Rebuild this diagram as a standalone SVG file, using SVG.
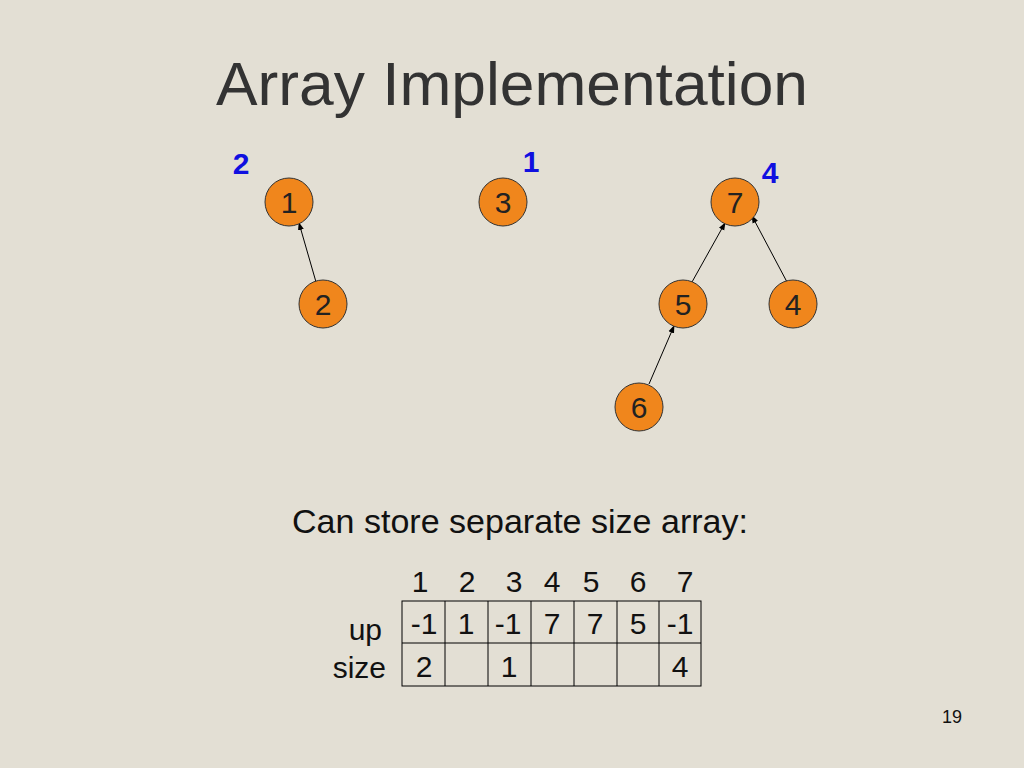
<svg xmlns="http://www.w3.org/2000/svg" width="1024" height="768" viewBox="0 0 1024 768">
<defs>
<marker id="ah" markerWidth="8" markerHeight="8" refX="7" refY="4" orient="auto" markerUnits="userSpaceOnUse">
<path d="M0,1 L8,4 L0,7 Z" fill="#000"/></marker>
</defs>
<style>
text{font-family:"Liberation Sans",Arial,sans-serif;}
.n circle{fill:#F0861C;stroke:#333;stroke-width:1}
.n text{font-size:30px;text-anchor:middle;fill:#222}
.b{font-size:30px;font-weight:bold;fill:#1010E0;text-anchor:middle}
.t{font-size:30px;fill:#111;text-anchor:middle}
.c line{stroke:#000;stroke-width:1;marker-end:url(#ah)}
.g line{stroke:#000;stroke-width:1}
</style>
<rect width="1024" height="768" fill="#E3DFD4"/>
<text x="512" y="105" font-size="62" fill="#333" text-anchor="middle" textLength="592" lengthAdjust="spacingAndGlyphs">Array Implementation</text>
<text class="b" x="241" y="174">2</text>
<text class="b" x="531" y="172">1</text>
<text class="b" x="770" y="183">4</text>
<g class="c">
<line x1="316" y1="282" x2="299" y2="223"/>
<line x1="692" y1="282" x2="725" y2="223"/>
<line x1="787" y1="282" x2="752" y2="216"/>
<line x1="649" y1="384" x2="674" y2="326"/>
</g>
<g id="n1" class="n"><circle cx="289" cy="202" r="24"/><text x="289" y="213">1</text></g>
<g id="n3" class="n"><circle cx="503" cy="202" r="24"/><text x="503" y="213">3</text></g>
<g id="n7" class="n"><circle cx="735" cy="202" r="24"/><text x="735" y="213">7</text></g>
<g id="n2" class="n"><circle cx="323" cy="304" r="24"/><text x="323" y="315">2</text></g>
<g id="n5" class="n"><circle cx="683" cy="304" r="24"/><text x="683" y="315">5</text></g>
<g id="n4" class="n"><circle cx="793" cy="304" r="24"/><text x="793" y="315">4</text></g>
<g id="n6" class="n"><circle cx="639" cy="407" r="24"/><text x="639" y="418">6</text></g>
<text x="292" y="533" font-size="33" fill="#111" textLength="456" lengthAdjust="spacingAndGlyphs">Can store separate size array:</text>
<g class="t">
<text x="420" y="592">1</text><text x="467" y="592">2</text><text x="514" y="592">3</text><text x="552" y="592">4</text><text x="591" y="592">5</text><text x="638" y="592">6</text><text x="685" y="592">7</text>
<text x="424" y="634">-1</text><text x="466" y="634">1</text><text x="508" y="634">-1</text><text x="552" y="634">7</text><text x="595" y="634">7</text><text x="638" y="634">5</text><text x="680" y="634">-1</text>
<text x="424" y="677">2</text><text x="509" y="677">1</text><text x="680" y="677">4</text>
</g>
<text x="382" y="640" font-size="30" fill="#111" text-anchor="end">up</text>
<text x="386" y="678" font-size="30" fill="#111" text-anchor="end">size</text>
<g class="g">
<rect x="402" y="601" width="299" height="85" fill="none" stroke="#000"/>
<line x1="402" y1="643" x2="701" y2="643"/>
<line x1="445" y1="601" x2="445" y2="686"/><line x1="488" y1="601" x2="488" y2="686"/><line x1="531" y1="601" x2="531" y2="686"/><line x1="574" y1="601" x2="574" y2="686"/><line x1="617" y1="601" x2="617" y2="686"/><line x1="659" y1="601" x2="659" y2="686"/>
</g>
<text x="952" y="723" font-size="18" fill="#111" text-anchor="middle">19</text>
</svg>
